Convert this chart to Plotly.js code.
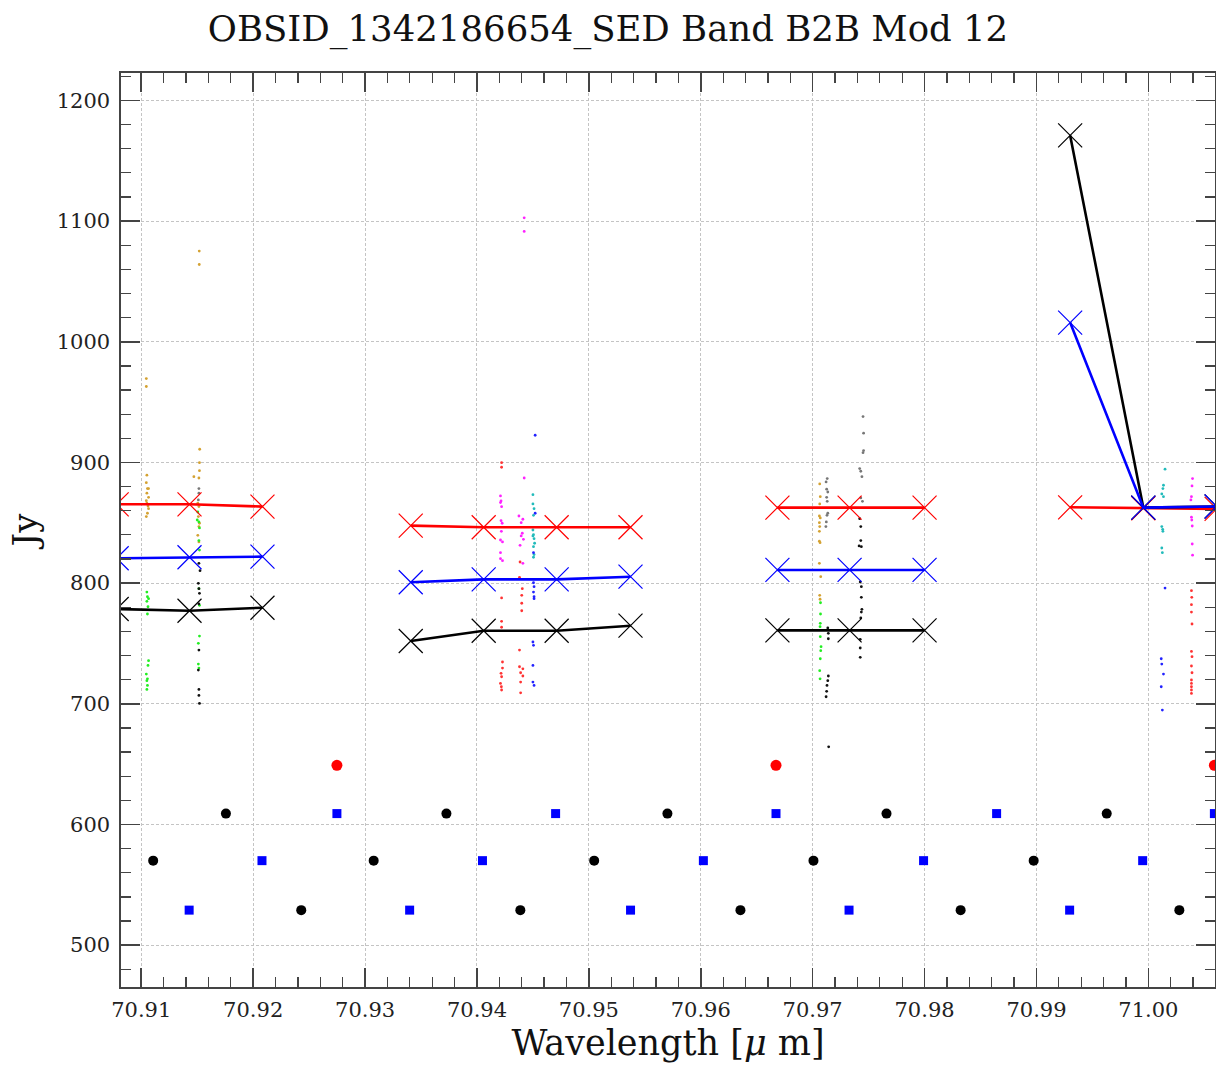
<!DOCTYPE html>
<html>
<head>
<meta charset="utf-8">
<script src="https://cdn.plot.ly/plotly-3.0.1.min.js"></script>
<style>html,body{margin:0;padding:0;background:#fff;}#chart{width:1216px;height:1066px;}</style>
</head>
<body>
<div id="chart"></div>
<script>
// ---- line series (x markers), groups separated by null ----
const lineX   = [70.90780, 70.91431, 70.92083, null, 70.93408, 70.94060, 70.94712, 70.95372, null, 70.96685, 70.97330, 70.98000, null, 70.99301, 70.99955, 71.00610];
const redLine   = [865.3, 865.3, 863.4, null, 847.6, 846.3, 846.3, 846.3, null, 862.5, 862.5, 862.5, null, 862.8, 862.0, 861.5];
const blueLine  = [820.6, 821.4, 821.9, null, 800.7, 803.1, 803.1, 805.3, null, 810.9, 810.9, 810.9, null, 1015.9, 862.5, 863.5];
const blackLine = [778.5, 777.1, 779.6, null, 752.0, 760.5, 760.5, 764.7, null, 760.8, 760.8, 760.8, null, 1171.0, 862.5, 863.5];

// ---- lower marker rows ----
const blackDotX = [70.917563, 70.937268, 70.957018, 70.976598, 70.996277,
                   70.911063, 70.930768, 70.950473, 70.970071, 70.989750,
                   70.924295, 70.943875, 70.963545, 70.983223, 71.002768];
const blackDotY = [609, 609, 609, 609, 609, 570, 570, 570, 570, 570, 529, 529, 529, 529, 529];
const blueSqX = [70.927482, 70.947027, 70.966723, 70.986438, 71.005900,
                 70.920786, 70.940491, 70.960232, 70.979911, 70.999491,
                 70.914277, 70.933982, 70.953723, 70.973250, 70.992964];
const blueSqY = [609, 609, 609, 609, 609, 570, 570, 570, 570, 570, 529, 529, 529, 529, 529];
const redDotX = [70.927482, 70.966723, 71.005900];
const redDotY = [649, 649, 649];

// ---- scattered samples ----
const goldX = [70.91045,70.91045,70.91050,70.91045,70.91055,70.91065,70.91050,70.91065,70.91045,70.91050,70.91060,70.91065,70.91055,70.91045,
  70.91518,70.91518,70.91522,70.91520,70.91520,70.91470,70.91515,70.91505,70.91515,70.91510,70.91520,70.91515,70.91505,70.91515,
  70.97063,70.97068,70.97063,70.97060,70.97068,70.97060,70.97063,70.97060,70.97060,70.97066,70.97060,70.97072,70.97063,70.97066];
const goldY = [969.5,962.9,889.4,883.2,878.3,878.3,874.5,871.1,868.3,866.2,863.9,861.7,857.9,855.1,
  1075.1,1064.0,910.9,899.8,893.2,888.2,887.1,866.2,863.4,855.1,849.6,846.8,839.6,834.1,
  882.2,871.6,865.6,855.6,854.0,850.1,846.8,842.9,834.7,833.5,816.4,805.3,789.9,786.6];

const greenX = [70.91050,70.91055,70.91065,70.91050,70.91060,70.91055,70.91065,70.91060,70.91045,70.91055,70.91050,70.91055,70.91050,
  70.91505,70.91500,70.91515,70.91520,70.91515,70.91520,70.91515,70.91520,70.91520,70.91510,70.91510,70.91515,
  70.97070,70.97070,70.97068,70.97066,70.97068,70.97075,70.97072,70.97068,70.97063,70.97066];
const greenY = [792.6,788.7,787.1,784.9,780.4,774.4,735.7,731.8,724.6,720.7,719.1,715.2,711.9,
  858.9,852.3,850.7,845.7,835.2,827.4,795.4,781.6,756.1,750.1,732.9,729.6,
  783.7,774.4,766.7,763.9,755.6,747.3,744.0,737.3,727.4,720.7];

const grayX = [70.91515,70.91515,70.91510,
  70.97130,70.97120,70.97125,70.97135,70.97125,70.97130,70.97135,70.97128,70.97122,70.97118,
  70.97450,70.97455,70.97455,70.97450,70.97420,70.97430,70.97440,70.97430,70.97445];
const grayY = [878.3,874.5,868.9,
  886.6,883.8,877.8,875.5,871.1,867.8,857.9,856.2,850.7,846.8,
  938.0,924.2,909.8,908.1,894.9,892.7,888.2,870.6,867.8];

const darkX = [70.91515,70.91525,70.91510,70.91515,70.91520,70.91515,70.91515,70.91510,70.91515,70.91515,70.91520,
  70.97135,70.97140,70.97140,70.97140,70.97135,70.97128,70.97125,70.97120,70.97143,
  70.97420,70.97430,70.97430,70.97415,70.97435,70.97425,70.97435,70.97435,70.97440,70.97435,70.97430,70.97425,70.97425,70.97425];
const darkY = [816.4,810.3,799.8,795.4,791.5,782.7,744.5,727.9,711.9,706.9,700.3,
  762.8,758.4,753.9,723.0,719.1,715.2,710.3,705.8,664.3,
  853.4,846.8,835.2,830.8,830.2,800.9,797.0,788.2,778.3,776.0,771.1,753.4,746.2,738.5];

const magentaX = [70.94422,70.94422,70.94422,
  70.94210,70.94215,70.94210,70.94220,70.94215,70.94225,70.94218,70.94210,70.94228,70.94210,70.94210,70.94228,
  70.94375,70.94410,70.94395,70.94405,70.94395,70.94415,70.94385,70.94410,
  71.00395,71.00390,71.00385,71.00380,71.00385,71.00388,71.00392,71.00392,71.00395];
const magentaY = [1102.7,1091.4,887.1,
  872.2,868.1,866.7,863.3,851.7,849.6,842.9,835.7,834.1,825.2,820.2,818.6,
  855.6,852.9,850.1,841.3,839.1,836.3,831.3,816.4,
  886.6,880.5,871.6,868.9,854.6,852.3,847.3,832.4,823.1];

const redPtX = [70.94220,70.94220,70.94220,70.94220,70.94220,70.94228,70.94228,70.94215,70.94220,70.94210,70.94218,70.94220,
  70.94385,70.94380,70.94405,70.94400,70.94400,70.94400,70.94380,70.94380,70.94410,70.94390,70.94410,70.94390,70.94390,
  71.00385,71.00388,71.00385,71.00385,71.00390,71.00385,71.00390,71.00385,71.00390,71.00385,71.00385,71.00385,71.00385,71.00385];
const redPtY = [899.8,896.0,787.7,768.3,763.4,734.6,729.6,725.2,722.4,716.9,714.1,711.4,
  817.5,804.8,795.4,789.9,783.3,777.1,744.5,730.7,729.0,725.7,723.0,718.0,709.1,
  793.7,788.2,782.1,776.0,766.1,743.4,739.0,731.3,725.7,719.7,716.9,714.1,711.4,708.6];

const cyanX = [70.94500,70.94500,70.94510,70.94505,70.94500,70.94505,70.94500,70.94510,70.94515,70.94505,70.94510,70.94505,
  71.00149,71.00135,71.00130,71.00120,71.00135,71.00120,71.00128,71.00130,71.00120,71.00125];
const cyanY = [873.3,865.6,861.7,856.2,844.0,840.1,839.1,836.8,833.0,830.2,823.6,821.4,
  894.4,881.1,878.3,873.9,871.6,846.8,844.6,842.9,829.1,825.2];

const bluePtX = [70.94520,70.94520,70.94505,70.94505,70.94510,70.94505,70.94510,70.94510,70.94500,70.94505,70.94500,70.94500,70.94510,
  71.00149,71.00115,71.00120,71.00135,71.00115,71.00125];
const bluePtY = [922.5,857.9,825.2,800.3,797.0,792.6,788.7,787.1,751.2,748.4,731.8,718.0,715.2,
  795.9,737.3,732.9,724.6,714.1,694.8];

const FONT = 'DejaVu Serif';

function dots(x, y, color) {
  return {x: x, y: y, type: 'scatter', mode: 'markers', hoverinfo: 'skip',
          marker: {color: color, size: 2.8, line: {width: 0}}, showlegend: false};
}
function xline(y, color) {
  return {x: lineX, y: y, type: 'scatter', mode: 'lines+markers', connectgaps: false,
          line: {color: color, width: 2.6},
          marker: {symbol: 'x-thin-open', size: 24, color: color, line: {color: color, width: 1.2}},
          showlegend: false};
}

const traces = [
  dots(goldX, goldY, '#d4a232'),
  dots(greenX, greenY, '#22ee22'),
  dots(grayX, grayY, '#777777'),
  dots(darkX, darkY, '#111111'),
  dots(magentaX, magentaY, '#ff22ff'),
  dots(redPtX, redPtY, '#ff3333'),
  dots(cyanX, cyanY, '#22bbbb'),
  dots(bluePtX, bluePtY, '#2222ff'),
  xline(redLine, '#ff0000'),
  xline(blackLine, '#000000'),
  xline(blueLine, '#0000ff'),
  {x: blackDotX, y: blackDotY, type: 'scatter', mode: 'markers', showlegend: false,
   marker: {symbol: 'circle', size: 10, color: '#000000'}},
  {x: blueSqX, y: blueSqY, type: 'scatter', mode: 'markers', showlegend: false,
   marker: {symbol: 'square', size: 9, color: '#0000ff'}},
  {x: redDotX, y: redDotY, type: 'scatter', mode: 'markers', showlegend: false,
   marker: {symbol: 'circle', size: 11, color: '#ff0000'}}
];

const axisCommon = {
  showline: true, linecolor: '#444444', linewidth: 1.6, mirror: 'ticks',
  ticks: 'inside', ticklen: 19, tickwidth: 1.6, tickcolor: '#444444',
  showgrid: true, gridcolor: '#c4c4c4', gridwidth: 1, griddash: '3px,2px',
  zeroline: false,
  tickfont: {family: FONT, size: 21, color: '#222222'}
};

const layout = {
  width: 1216, height: 1066,
  paper_bgcolor: '#ffffff', plot_bgcolor: '#ffffff',
  margin: {l: 121, r: 1, t: 73, b: 79},
  title: {text: 'OBSID_1342186654_SED Band B2B Mod 12', x: 0.5, xanchor: 'center',
          y: 1 - 29/1066, yanchor: 'middle', yref: 'container',
          font: {family: FONT, size: 35.5, color: '#111111'}},
  xaxis: Object.assign({}, axisCommon, {
    range: [70.908187, 71.005955], tick0: 70.91, dtick: 0.01, tickformat: '.2f',
    ticklabelstandoff: 3,
    minor: {dtick: 0.002, ticks: 'inside', ticklen: 10, tickwidth: 1.3, tickcolor: '#444444', showgrid: false},
    title: {text: 'Wavelength [<i>\u03bc</i> m]', standoff: 10, font: {family: FONT, size: 35, color: '#111111'}}
  }),
  yaxis: Object.assign({}, axisCommon, {
    range: [465.3, 1222.7], tick0: 0, dtick: 100, tickformat: 'd',
    ticklabelstandoff: 5,
    minor: {dtick: 20, ticks: 'inside', ticklen: 10, tickwidth: 1.3, tickcolor: '#444444', showgrid: false},
    title: {text: 'Jy', standoff: 9, font: {family: FONT, size: 34, color: '#111111'}}
  })
};

Plotly.newPlot('chart', traces, layout, {staticPlot: true, displayModeBar: false});
</script>
</body>
</html>
